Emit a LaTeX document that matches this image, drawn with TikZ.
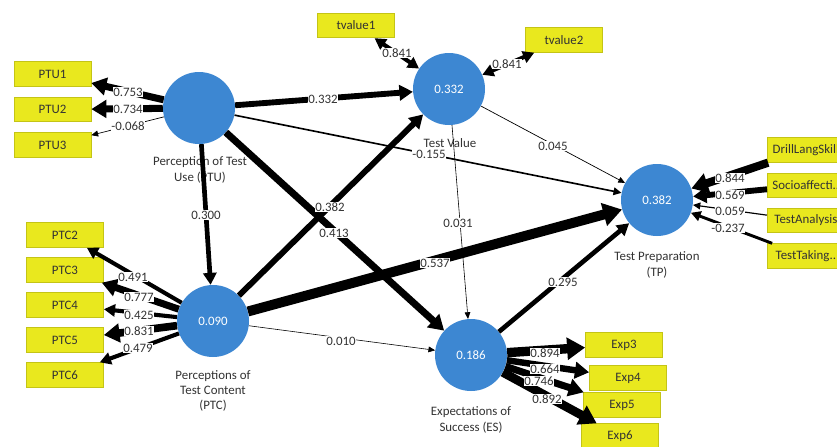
\documentclass[tikz,border=0pt]{standalone}
\usepackage{fontspec}
\setmainfont{Carlito}
\usetikzlibrary{arrows.meta}
\definecolor{lvblue}{HTML}{3D87D2}
\definecolor{indyellow}{HTML}{E9E81E}
\definecolor{indborder}{HTML}{C4C416}
\definecolor{txt}{HTML}{333333}

\begin{document}
\begin{tikzpicture}[x=0.03cm, y=-0.03cm, font=\fontsize{11}{13}\selectfont,
    lv/.style={circle, fill=lvblue, minimum size=2.16cm, inner sep=0pt, text=white},
    ind/.style={rectangle, fill=indyellow, draw=indborder, line width=0.6pt,
                minimum width=2.31cm, minimum height=0.74cm, inner sep=2pt, text=txt},
    lvname/.style={align=center, text=txt},
    coef/.style={fill=white, inner sep=0.6pt, text=txt},
    pth/.style={-{Triangle[length=5pt 1.3, width=4pt 1.8]}, line width=#1},
    bipth/.style={{Triangle[length=5pt 1.3, width=4pt 1.8]}-{Triangle[length=5pt 1.3, width=4pt 1.8]}, line width=#1}]
    \useasboundingbox (0,0) rectangle (837,446);
    \clip (0,0) rectangle (837,446);
    \fill[white] (0,0) rectangle (837,446);

    % latent variables
    \node[lv] (PTU) at (199,108) {};
    \node[lv] (TV)  at (449,89)  {0.332};
    \node[lv] (TP)  at (657,200) {0.382};
    \node[lv] (PTC) at (213,321) {0.090};
    \node[lv] (ES)  at (471,355) {0.186};

    \node[lvname] (PTUname) at (200,170) {Perception of Test\\Use (PTU)};
    \node[lvname] (TVname)  at (450,143) {Test Value};
    \node[lvname] (TPname)  at (657,265) {Test Preparation\\(TP)};
    \node[lvname] (PTCname) at (213,391) {Perceptions of\\Test Content\\(PTC)};
    \node[lvname] (ESname)  at (471,420) {Expectations of\\Success (ES)};

    % indicators
    \foreach \i/\y in {1/74, 2/109.5, 3/145}
      \node[ind] (PTU\i) at (52.5,\y) {PTU\i};
    \foreach \i/\y in {2/235, 3/270, 4/305, 5/340, 6/375}
      \node[ind] (PTC\i) at (65,\y) {PTC\i};
    \foreach \i/\x/\y in {3/624/345, 4/628/378, 5/622/405, 6/620/436}
      \node[ind] (Exp\i) at (\x,\y) {Exp\i};
    \foreach \n/\t/\y in {tp1/DrillLangSkill/150, tp2/Socioaffecti../185.5,
                          tp3/TestAnalysis/220.5, tp4/TestTaking../256}
      \node[ind, anchor=west, inner xsep=4pt] (\n) at (767,\y) {\t};
    \node[ind] (tvalue1) at (356,25.5) {tvalue1};
    \node[ind] (tvalue2) at (564,40)   {tvalue2};

    % structural paths
    \foreach \a/\b/\w in {PTU/TV/5pt, PTU/TP/1.4pt, PTU/PTC/4pt, PTU/ES/6pt,
                          PTC/TV/5pt, PTC/TP/8.5pt, PTC/ES/0.5pt,
                          TV/TP/0.6pt, TV/ES/0.5pt, ES/TP/4pt}
      \draw[pth=\w] (\a) -- (\b);

    % outer model
    \foreach \a/\b/\w in {PTU/PTU1/6pt, PTU/PTU2/6pt, PTU/PTU3/0.6pt,
                          PTC/PTC2/3.5pt, PTC/PTC3/6pt, PTC/PTC4/3.5pt, PTC/PTC5/6.5pt, PTC/PTC6/3.5pt,
                          ES/Exp3/8pt, ES/Exp4/5.5pt, ES/Exp5/6pt, ES/Exp6/7.5pt,
                          tp1/TP/7pt, tp2/TP/5pt, tp3/TP/1pt, tp4/TP/2.5pt}
      \draw[pth=\w] (\a) -- (\b);
    \draw[bipth=3.5pt] (tvalue1) -- (TV);
    \draw[bipth=3.5pt] (tvalue2) -- (TV);

    % coefficients
    \foreach \n/\x/\y/\v in {c1/128/92/0.753, c2/128/109/0.734, c3/128/126/-0.068,
                             c4/323/99/0.332, c5/429/154/-0.155, c6/206/215/0.300,
                             c7/330/207/0.382, c8/334/233/0.413, c9/435/263/0.537,
                             c10/341/341/0.010, c11/458/223/0.031, c12/553/146/0.045,
                             c13/563/282/0.295, c14/397/53/0.841, c15/507/64/0.841,
                             c16/730/178/0.844, c17/730/195/0.569, c18/730/211/0.059,
                             c19/728/228/-0.237, c20/133/277/0.491, c21/139/297/0.777,
                             c22/139/315/0.425, c23/139/331/0.831, c24/138/348/0.479,
                             c25/545/353/0.894, c26/545/369/0.664, c27/539/381/0.746,
                             c28/547/399/0.892}
      \node[coef] (\n) at (\x,\y) {\v};
  \end{tikzpicture}
\end{document}
